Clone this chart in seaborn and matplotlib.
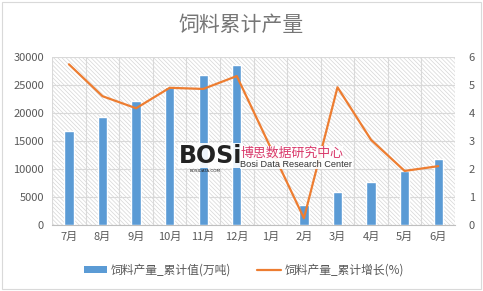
import numpy as np
import pandas as pd
import matplotlib
matplotlib.use("Agg")
import matplotlib.pyplot as plt
import seaborn as sns
from matplotlib.patches import Rectangle, Patch
from matplotlib.lines import Line2D

months = ["7月", "8月", "9月", "10月", "11月", "12月", "1月", "2月", "3月", "4月", "5月", "6月"]
cumulative = [16800, 19300, 22100, 24600, 26800, 28600, np.nan, 3600, 5800, 7700, 9700, 11800]
growth = [5.74, 4.6, 4.17, 4.9, 4.86, 5.32, np.nan, 0.24, 4.92, 3.04, 1.93, 2.1]
left_ticks = [0, 5000, 10000, 15000, 20000, 25000, 30000]
right_ticks = [0, 1, 2, 3, 4, 5, 6]
title = "饲料累计产量"
bar_label = "饲料产量_累计值(万吨)"
line_label = "饲料产量_累计增长(%)"

sns.set_style("white")
plt.rcParams['font.family'] = ['Noto Sans CJK SC', 'DejaVu Sans']
plt.rcParams['hatch.linewidth'] = 0.5
plt.rcParams['axes.unicode_minus'] = False

BLUE = "#5B9BD5"
ORANGE = "#ED7D31"
GRID = "#d9d9d9"
TXT = "#595959"

fig = plt.figure(figsize=(4.83, 2.91), dpi=100)
ax = fig.add_axes([0.108, 0.227, 0.834, 0.577])

df = pd.DataFrame({"month": months, "value": cumulative, "growth": growth})
df["pos"] = np.arange(len(months))

# hatched background
ax.patch.set_facecolor("white")
ax.patch.set_hatch("\\" * 8)
ax.patch.set_edgecolor("#d6d6d6")
ax.patch.set_linewidth(0)

sns.barplot(data=df, x="month", y="value", order=months, color=BLUE,
            width=0.28, saturation=1, ax=ax, zorder=3, errorbar=None)

ax.set_xlim(-0.5, len(months) - 0.5)
ax.set_ylim(0, 30000)
ax.set_yticks(left_ticks)
ax.set_xlabel("")
ax.set_ylabel("")
ax.set_xticks(np.arange(-0.5, len(months), 1.0), minor=True)
ax.grid(True, axis="y", which="major", color=GRID, lw=0.8, zorder=1)
ax.grid(True, axis="x", which="minor", color=GRID, lw=0.8, zorder=1)
ax.grid(False, axis="x", which="major")
ax.set_axisbelow(True)
for s in ["left", "right", "top"]:
    ax.spines[s].set_visible(False)
ax.spines["bottom"].set_color("#bfbfbf")
ax.tick_params(axis="x", which="major", length=0, labelsize=8, labelcolor=TXT, pad=5)
ax.tick_params(axis="x", which="minor", length=4, color="#bfbfbf", direction="out")
ax.tick_params(axis="y", length=0, labelsize=8, labelcolor=TXT, pad=6)

ax2 = ax.twinx()
line_df = df.dropna(subset=["growth"])
sns.lineplot(data=line_df, x="pos", y="growth", color=ORANGE, lw=1.6, ax=ax2,
             sort=False, zorder=4)
ax2.set_ylim(0, 6)
ax2.set_yticks(right_ticks)
ax2.set_xlim(-0.5, len(months) - 0.5)
ax2.set_xlabel("")
ax2.set_ylabel("")
for s in ["left", "right", "top", "bottom"]:
    ax2.spines[s].set_visible(False)
ax2.tick_params(axis="y", length=0, labelsize=8, labelcolor=TXT, pad=10)
ax2.grid(False)

fig.text(0.5, 0.914, title, ha="center", va="center", fontsize=15, color="#767676")

handles = [Patch(facecolor=BLUE, edgecolor="none"), Line2D([0], [0], color=ORANGE, lw=1.6)]
leg = fig.legend(handles, [bar_label, line_label], loc="center", bbox_to_anchor=(0.505, 0.072),
                 ncol=2, frameon=False, fontsize=8.5, handlelength=2.0, handleheight=0.45,
                 columnspacing=2.2, handletextpad=0.3)
for t in leg.get_texts():
    t.set_color(TXT)

# watermark
fig.text(0.370, 0.465, "BOSi", fontsize=17, fontweight="bold", color="#222222",
         ha="left", va="center", family="DejaVu Sans",
         bbox=dict(facecolor="white", edgecolor="none", pad=0.5, alpha=0.9))
fig.text(0.392, 0.412, "BOSIDATA.COM", fontsize=3, color="#222222", ha="left", va="center",
         family="DejaVu Sans")
fig.text(0.497, 0.474, "博思数据研究中心", fontsize=9.3, color="#d9386a", ha="left", va="center",
         bbox=dict(facecolor="white", edgecolor="none", pad=0.3, alpha=0.9))
fig.text(0.497, 0.436, "Bosi Data Research Center", fontsize=6.6, color="#333333",
         ha="left", va="center", family="Liberation Sans",
         bbox=dict(facecolor="white", edgecolor="none", pad=0.3, alpha=0.9))

fig.patches.append(Rectangle((0.004, 0.006), 0.992, 0.988, transform=fig.transFigure,
                             fill=False, edgecolor="#d9d9d9", lw=0.8))

fig.savefig("out.png", dpi=100)
